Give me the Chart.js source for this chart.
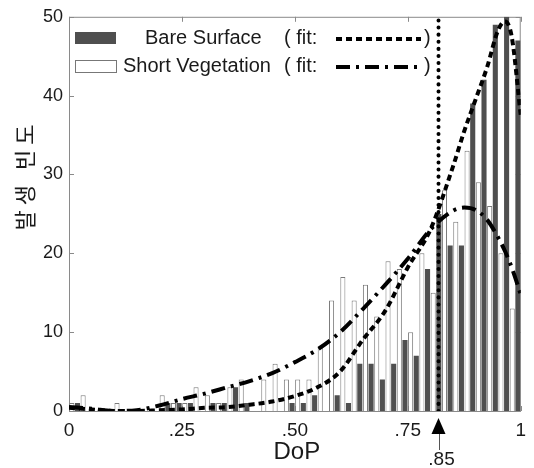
<!DOCTYPE html>
<html>
<head>
<meta charset="utf-8">
<script src="https://cdn.jsdelivr.net/npm/chart.js@4.4.0/dist/chart.umd.min.js"></script>
<style>
  html, body { margin: 0; padding: 0; background: #fff; }
</style>
</head>
<body>
<canvas id="dopChart" width="534" height="468"></canvas>
<script>
// histogram counts per DoP bin (40 bins of 0.025)
const shortVegetation = [1, 2, 0, 0, 1, 0, 0, 0, 2, 1,
                         1, 3, 2, 1, 3, 4, 0, 4, 6, 4,
                         4, 4, 8, 14, 17, 14, 16, 12, 19, 18,
                         10, 20, 15, 28, 24, 33, 29, 26, 20, 13];
const bareSurface = [1, 0, 0, 0, 0, 0, 0, 0, 1, 1,
                     1, 0, 1, 1, 3, 1, 0, 0, 0, 1,
                     1, 2, 0, 2, 1, 6, 6, 4, 6, 9,
                     7, 18, 25, 21, 21, 39, 42, 49, 50, 47];

// fitted curves
const fitX = [0, 0.05, 0.1, 0.15, 0.2, 0.25, 0.3, 0.35, 0.4, 0.45, 0.5, 0.55, 0.6,
              0.65, 0.7, 0.75, 0.8, 0.85, 0.875, 0.9, 0.925, 0.95, 0.965, 0.98, 1.0];
const bareFit = [0.4, 0.2, 0, 0, 0.1, 0.2, 0.4, 0.5, 0.8, 1.2, 1.9, 3.0, 5.0,
                 9.0, 12.7, 18.2, 23.0, 31.0, 35.5, 39.5, 43.5, 48.3, 49.4, 47.5, 37.5];
const vegFit = [0.5, 0.3, 0, 0.1, 0.7, 1.5, 2.2, 3.0, 3.8, 4.8, 6.2, 7.8, 10.0,
                12.9, 16.0, 19.3, 23.0, 25.4, 25.8, 25.5, 24.3, 22.0, 20.3, 18.2, 14.8];

const xTickValues = [0, 0.25, 0.5, 0.75, 1];
const xTickLabels = ['0', '.25', '.50', '.75', '1'];
const thresholdValue = 0.818;   // where the dotted marker line is drawn
const thresholdLabel = '.85';

const binCenters = shortVegetation.map((_, i) => (i + 0.5) / shortVegetation.length);
const toPoints = (xs, ys) => xs.map((x, i) => ({ x: x, y: ys[i] }));

const FONT = '"Liberation Sans", Arial, sans-serif';
const DARK = '#4f4f4f';
const FRAME = '#8a8a8a';

const decorations = {
    id: 'decorations',
    beforeDatasetsDraw(chart) {
        const { ctx, chartArea: a, scales } = chart;
        ctx.save();
        ctx.strokeStyle = FRAME;
        ctx.lineWidth = 1;
        ctx.strokeRect(a.left + 0.5, a.top + 0.5, a.right - a.left - 1, a.bottom - a.top);
        // inner ticks
        ctx.beginPath();
        scales.x.ticks.forEach(t => {
            const px = Math.round(scales.x.getPixelForValue(t.value)) + 0.5;
            ctx.moveTo(px, a.bottom); ctx.lineTo(px, a.bottom - 5);
            ctx.moveTo(px, a.top); ctx.lineTo(px, a.top + 5);
        });
        scales.y.ticks.forEach(t => {
            const py = Math.round(scales.y.getPixelForValue(t.value)) + 0.5;
            ctx.moveTo(a.left, py); ctx.lineTo(a.left + 5, py);
            ctx.moveTo(a.right, py); ctx.lineTo(a.right - 5, py);
        });
        ctx.stroke();
        ctx.restore();
    },
    afterDraw(chart) {
        const { ctx, chartArea: a, scales } = chart;
        ctx.save();
        ctx.fillStyle = '#1a1a1a';

        // legend
        ctx.font = '20px ' + FONT;
        ctx.textBaseline = 'middle';
        ctx.fillStyle = DARK;
        ctx.fillRect(75, 32, 41, 12);
        ctx.fillStyle = '#fff';
        ctx.strokeStyle = '#777';
        ctx.lineWidth = 1;
        ctx.fillRect(75.5, 60.5, 41, 12);
        ctx.strokeRect(75.5, 60.5, 41, 12);
        ctx.fillStyle = '#1a1a1a';
        ctx.fillText('Bare Surface', 145, 38);
        ctx.fillText('Short Vegetation', 123, 66);
        ctx.fillText('( fit:', 284, 38);
        ctx.fillText('( fit:', 284, 66);
        ctx.fillText(')', 424, 38);
        ctx.fillText(')', 424, 66);
        ctx.strokeStyle = '#000';
        ctx.lineWidth = 4;
        ctx.setLineDash([6, 4]);
        ctx.beginPath(); ctx.moveTo(336, 39); ctx.lineTo(421, 39); ctx.stroke();
        ctx.setLineDash([14, 6, 3, 6]);
        ctx.beginPath(); ctx.moveTo(336, 67); ctx.lineTo(421, 67); ctx.stroke();
        ctx.setLineDash([]);

        // arrow + label under the threshold line
        const tx = scales.x.getPixelForValue(thresholdValue);
        ctx.fillStyle = '#000';
        ctx.beginPath();
        ctx.moveTo(tx, a.bottom + 7);
        ctx.lineTo(tx - 7, a.bottom + 23);
        ctx.lineTo(tx + 7, a.bottom + 23);
        ctx.closePath();
        ctx.fill();
        ctx.strokeStyle = '#555';
        ctx.lineWidth = 1;
        ctx.beginPath();
        ctx.moveTo(Math.round(tx) + 0.5, a.bottom + 23);
        ctx.lineTo(Math.round(tx) + 0.5, a.bottom + 39);
        ctx.stroke();
        ctx.fillStyle = '#1a1a1a';
        ctx.font = '19px ' + FONT;
        ctx.textAlign = 'center';
        ctx.fillText(thresholdLabel, tx + 3, a.bottom + 49);

        // axis titles
        ctx.font = '24px ' + FONT;
        ctx.fillText('DoP', (a.left + a.right) / 2 + 2, a.bottom + 41);
        ctx.translate(25, 178);
        ctx.rotate(-Math.PI / 2);
        ctx.font = '22px "Noto Sans CJK KR", sans-serif';
        ctx.letterSpacing = '5px';
        ctx.fillText('발생 빈도', 3, 0);
        ctx.restore();
    }
};

new Chart(document.getElementById('dopChart'), {
    type: 'bar',
    data: {
        datasets: [
            {
                type: 'line',
                data: [{ x: thresholdValue, y: 0 }, { x: thresholdValue, y: 50 }],
                borderColor: '#000',
                borderWidth: 4,
                borderDash: [0.1, 7],
                borderCapStyle: 'round',
                pointRadius: 0
            },
            {
                type: 'line',
                label: 'Bare Surface fit',
                data: toPoints(fitX, bareFit),
                borderColor: '#000',
                borderWidth: 4,
                borderDash: [6, 4],
                cubicInterpolationMode: 'monotone',
                pointRadius: 0
            },
            {
                type: 'line',
                label: 'Short Vegetation fit',
                data: toPoints(fitX, vegFit),
                borderColor: '#000',
                borderWidth: 4,
                borderDash: [14, 6, 3, 6],
                cubicInterpolationMode: 'monotone',
                pointRadius: 0
            },
            {
                label: 'Short Vegetation',
                data: toPoints(binCenters, shortVegetation),
                backgroundColor: '#fff',
                borderColor: '#7a7a7a',
                borderWidth: 1,
                categoryPercentage: 1,
                barPercentage: 0.9
            },
            {
                label: 'Bare Surface',
                data: toPoints(binCenters, bareSurface),
                backgroundColor: DARK,
                borderWidth: 0,
                categoryPercentage: 1,
                barPercentage: 0.9
            }
        ]
    },
    options: {
        responsive: false,
        animation: false,
        layout: { padding: { top: 14, right: 9, left: 0, bottom: 0 } },
        plugins: { legend: { display: false }, tooltip: { enabled: false } },
        scales: {
            x: {
                type: 'linear',
                min: 0,
                max: 1,
                offset: false,
                afterFit(scale) { scale.height = 57; },
                afterBuildTicks(scale) { scale.ticks = xTickValues.map(v => ({ value: v })); },
                grid: { display: false, drawTicks: false, offset: false },
                border: { display: false },
                ticks: {
                    padding: 8,
                    color: '#1a1a1a',
                    font: { family: FONT, size: 19 },
                    callback: (v) => xTickLabels[xTickValues.indexOf(v)]
                }
            },
            y: {
                min: 0,
                max: 50,
                afterFit(scale) { scale.width = 69; },
                grid: { display: false, drawTicks: false },
                border: { display: false },
                ticks: {
                    stepSize: 10,
                    padding: 6,
                    color: '#1a1a1a',
                    font: { family: FONT, size: 18 }
                }
            }
        }
    },
    plugins: [decorations]
});
</script>
</body>
</html>
